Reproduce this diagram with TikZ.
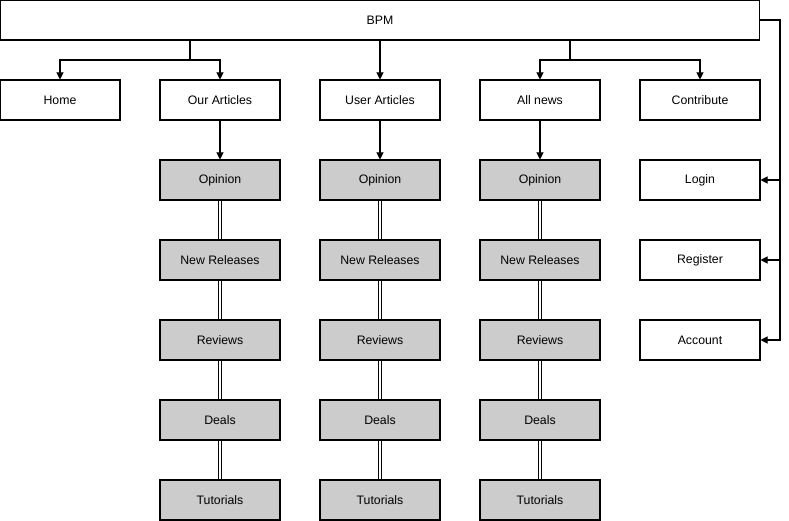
\documentclass[tikz,border=0pt]{standalone}
\usepackage{fontspec}
\setmainfont{Liberation Sans}
\usetikzlibrary{arrows.meta}
\definecolor{boxgray}{HTML}{CCCCCC}

\begin{document}
\begin{tikzpicture}[x=0.02cm, y=-0.02cm, line width=0.6pt,
    >={Triangle[length=4pt,width=4pt]},
    box/.style={draw, minimum width=2.4cm, minimum height=0.8cm, inner sep=0pt,
        font=\fontsize{7}{8}\selectfont},
    sub/.style={box, fill=boxgray},
    link/.style={double, double distance=1.2pt}]
\useasboundingbox (0,0) rectangle (789,521);

% top bar and first row
\node[box, minimum width=15.2cm] (bpm) at (380,20) {BPM};
\node[box] (home) at (60,100) {Home};
\node[box] (ourart) at (220,100) {Our Articles};
\node[box] (userart) at (380,100) {User Articles};
\node[box] (news) at (540,100) {All news};
\node[box] (contribute) at (700,100) {Contribute};

% account pages
\node[box] (login) at (700,180) {Login};
\node[box] (register) at (700,260) {Register};
\node[box] (account) at (700,340) {Account};

% article columns
\foreach \x/\top/\c in {220/ourart/oa, 380/userart/ua, 540/news/an} {
    \foreach \name [count=\i] in {Opinion, New Releases, Reviews, Deals, Tutorials}
        \node[sub] (\c\i) at (\x,100+80*\i) {\name};
    \draw[->] (\top) -- (\c1);
    \foreach \i/\j in {1/2, 2/3, 3/4, 4/5}
        \draw[link] (\c\i) -- (\c\j);
}

% connectors from the top bar
\coordinate (left) at (190,40);
\coordinate (right) at (570,40);
\draw (left) -- (190,60);
\draw[->] (190,60) -| (home.north);
\draw[->] (190,60) -| (ourart.north);
\draw[->] (bpm) -- (userart);
\draw (right) -- (570,60);
\draw[->] (570,60) -| (news.north);
\draw[->] (570,60) -| (contribute.north);
\draw (bpm.east) -- (780,20) -- (780,340);
\draw[->] (780,20) |- (login.east);
\draw[->] (780,20) |- (register.east);
\draw[->] (780,20) |- (account.east);
\end{tikzpicture}
\end{document}
